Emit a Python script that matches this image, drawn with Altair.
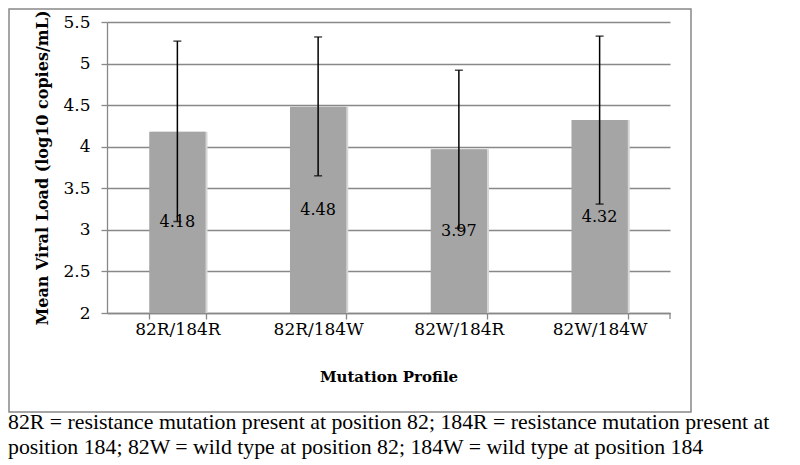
import altair as alt
import pandas as pd

# ---- data ----
profiles = ["82R/184R", "82R/184W", "82W/184R", "82W/184W"]
means = [4.18, 4.48, 3.97, 4.32]
err_low = [3.10, 3.65, 3.02, 3.31]
err_high = [5.27, 5.32, 4.92, 5.33]
y_ticks = [2, 2.5, 3, 3.5, 4, 4.5, 5, 5.5]
y_min, y_max = 2, 5.5
x_title = "Mutation Profile"
y_title = "Mean Viral Load (log10 copies/mL)"
caption_lines = [
    "82R = resistance mutation present at position 82; 184R = resistance mutation present at",
    "position 184; 82W = wild type at position 82; 184W = wild type at position 184",
]

df = pd.DataFrame({"profile": profiles, "mean": means, "low": err_low, "high": err_high})

W, H = 563, 291
GRAY = "#888888"
SERIF = "DejaVu Serif"

x_enc = alt.X(
    "profile:N",
    sort=profiles,
    scale=alt.Scale(paddingInner=0.6, paddingOuter=0.3),
    axis=alt.Axis(
        title=x_title, labelAngle=0, tickBand="extent", ticks=True, tickSize=6,
        tickColor=GRAY, domainColor=GRAY, domainWidth=1.3, tickWidth=1.3, grid=False,
        labelFont=SERIF, labelFontSize=17, labelColor="black", labelPadding=2,
        titleFont=SERIF, titleFontSize=15, titleFontWeight="bold", titleColor="black",
        titlePadding=32,
    ),
)

y_scale = alt.Scale(domain=[y_min, y_max], nice=False, zero=False)
y_axis = alt.Axis(
    title=y_title, values=y_ticks, format="~g", grid=True, gridColor=GRAY, gridWidth=1.3,
    domainColor=GRAY, domainWidth=1.3, tickColor=GRAY, tickWidth=1.3, tickSize=6,
    labelFont=SERIF, labelFontSize=17, labelColor="black", labelPadding=11,
    titleFont=SERIF, titleFontSize=16, titleFontWeight="bold", titleColor="black",
    titlePadding=12,
)

base = alt.Chart(df).encode(x=x_enc)

shadow = base.mark_bar(color="#d6d6d6", xOffset=2).encode(
    y=alt.Y("mean:Q", scale=y_scale, axis=y_axis),
    y2=alt.datum(y_min),
)
bars = base.mark_bar(color="#a5a5a5").encode(
    y=alt.Y("mean:Q", scale=y_scale, axis=y_axis),
    y2=alt.datum(y_min),
)

err = base.mark_rule(color="black", strokeWidth=1.5).encode(
    y=alt.Y("low:Q", scale=y_scale, title=y_title), y2="high:Q"
)
cap_hi = base.mark_tick(color="black", thickness=1.5, size=8).encode(
    y=alt.Y("high:Q", scale=y_scale, title=y_title)
)
cap_lo = base.mark_tick(color="black", thickness=1.5, size=8).encode(
    y=alt.Y("low:Q", scale=y_scale, title=y_title)
)

labels = base.transform_calculate(mid=f"(datum.mean + {y_min}) / 2").mark_text(
    font=SERIF, fontSize=16, color="black"
).encode(
    y=alt.Y("mid:Q", scale=y_scale, title=y_title),
    text=alt.Text("mean:Q", format=".2f"),
)

one = pd.DataFrame({"k": [0]})
frame = alt.Chart(one).mark_rect(fill=None, stroke=GRAY, strokeWidth=1.5).encode(
    x=alt.value(-98), x2=alt.value(584), y=alt.value(-13), y2=alt.value(390)
)
end_tick = alt.Chart(one).mark_rule(color=GRAY, strokeWidth=1.3).encode(
    x=alt.value(W), y=alt.value(H), y2=alt.value(H + 6)
)
caption = alt.Chart(one).mark_text(
    text=caption_lines, font="Liberation Serif", fontSize=21.8, color="black",
    align="left", baseline="alphabetic", lineHeight=25,
).encode(x=alt.value(-99), y=alt.value(407))

chart = alt.layer(frame, shadow, bars, err, cap_hi, cap_lo, labels, end_tick, caption).properties(
    width=W, height=H,
    autosize=alt.AutoSizeParams(type="none"),
    padding={"left": 99, "top": 14, "right": 122, "bottom": 148},
).configure_view(stroke=None)

chart.save("out.html", embed_options={"renderer": "svg", "actions": False})
